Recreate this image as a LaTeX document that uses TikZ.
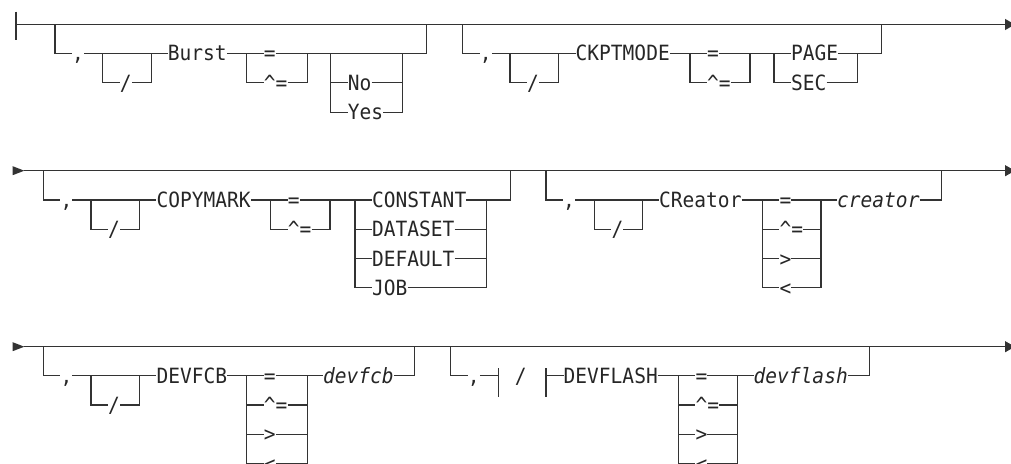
\documentclass[tikz,border=0pt]{standalone}
\usepackage{fontspec}
\usepackage{tikz}
\usetikzlibrary{arrows.meta,positioning}
\newfontfamily\sdfont[FakeStretch=0.93]{DejaVu Sans Mono}

\begin{document}
\begin{tikzpicture}[
    x=1pt, y=-1pt,
    rail/.style={draw=black!80, line width=1.1pt},
    arr/.style={rail, -{Triangle[length=10pt, width=11pt]}},
    kw/.style={font=\sdfont\fontsize{21}{24}\selectfont, text=black!85,
               inner sep=0pt, text height=15.3pt, text depth=0pt, anchor=west},
    var/.style={kw, font=\sdfont\itshape\fontsize{21}{24}\selectfont},
    node distance=17pt
  ]
  \useasboundingbox (0,0) rectangle (1011,463);
  \clip (0,0) rectangle (1011,463);

  % first line
  \coordinate (r1s) at (16,24.5);
  \coordinate (r1e) at (1015,24.5);
  \draw[rail] (16,11.7) -- (16,40);
  \draw[arr] (r1s) -- (r1e);

  \coordinate (bu0) at (55,24.5);
  \coordinate (bu1) at (55,53.3);
  \node[kw, right=of bu1] (bucom) {,};
  \coordinate (busl0) at (102.7,53.3);
  \coordinate (busl1) at (151.7,53.3);
  \node[kw] (busl) at (119.7,82.7) {/};
  \node[kw] (burst) at (167.7,53.3) {Burst};
  \coordinate (bueq0) at (246.7,53.3);
  \coordinate (bueq1) at (307.3,53.3);
  \node[kw] (bueq) at (263.7,53.3) {=};
  \node[kw] (bune) at (263.7,82.7) {\textasciicircum=};
  \coordinate (buyn0) at (330.7,53.3);
  \coordinate (buyn1) at (402.7,53.3);
  \node[kw] (buno) at (347.7,82.7) {No};
  \node[kw] (buyes) at (347.7,112.3) {Yes};
  \coordinate (buend) at (426.7,53.3);
  \draw[rail] (bu0) -- (bu1) -- (bucom.west);
  \draw[rail] (bucom.east) -- (burst.west);
  \draw[rail] (busl0) |- (busl.west);
  \draw[rail] (busl.east) -| (busl1);
  \draw[rail] (burst.east) -- (bueq.west);
  \draw[rail] (bueq.east) -- (buend) -- (buend |- bu0);
  \draw[rail] (bueq0) |- (bune.west);
  \draw[rail] (bune.east) -| (bueq1);
  \draw[rail] (buyn0) |- (buyes.west);
  \draw[rail] (buyn0 |- buno) -- (buno.west);
  \draw[rail] (buno.east) -- (buno.east -| buyn1);
  \draw[rail] (buyes.east) -| (buyn1);

  \coordinate (ck0) at (462.7,24.5);
  \coordinate (ck1) at (462.7,53.3);
  \node[kw, right=of ck1] (ckcom) {,};
  \coordinate (cksl0) at (510,53.3);
  \coordinate (cksl1) at (558.3,53.3);
  \node[kw] (cksl) at (527,82.7) {/};
  \node[kw] (ckpt) at (575.5,53.3) {CKPTMODE};
  \coordinate (ckeq0) at (690,53.3);
  \coordinate (ckeq1) at (750,53.3);
  \node[kw] (ckeq) at (707,53.3) {=};
  \node[kw] (ckne) at (707,82.7) {\textasciicircum=};
  \coordinate (ckps0) at (774,53.3);
  \coordinate (ckps1) at (857.7,53.3);
  \node[kw] (ckpage) at (791,53.3) {PAGE};
  \node[kw] (cksec) at (791,82.7) {SEC};
  \coordinate (ckend) at (881.7,53.3);
  \draw[rail] (ck0) -- (ck1) -- (ckcom.west);
  \draw[rail] (ckcom.east) -- (ckpt.west);
  \draw[rail] (cksl0) |- (cksl.west);
  \draw[rail] (cksl.east) -| (cksl1);
  \draw[rail] (ckpt.east) -- (ckeq.west);
  \draw[rail] (ckeq.east) -- (ckpage.west);
  \draw[rail] (ckeq0) |- (ckne.west);
  \draw[rail] (ckne.east) -| (ckeq1);
  \draw[rail] (ckps0) |- (cksec.west);
  \draw[rail] (cksec.east) -| (ckps1);
  \draw[rail] (ckpage.east) -- (ckend) -- (ckend |- ck0);

  % second line
  \coordinate (r2s) at (24.3,170.7);
  \coordinate (r2e) at (1015,170.7);
  \fill[black!80] (12.7,166.2) -- (r2s) -- (12.7,175.2) -- cycle;
  \draw[arr] (r2s) -- (r2e);

  \coordinate (cm0) at (43.3,170.7);
  \coordinate (cm1) at (43.3,200);
  \node[kw, right=of cm1] (cmcom) {,};
  \coordinate (cmsl0) at (91,200);
  \coordinate (cmsl1) at (139.3,200);
  \node[kw] (cmsl) at (108,229.3) {/};
  \node[kw] (copy) at (156.3,200) {COPYMARK};
  \coordinate (cmeq0) at (270.7,200);
  \coordinate (cmeq1) at (330,200);
  \node[kw] (cmeq) at (287.7,200) {=};
  \node[kw] (cmne) at (287.7,229.3) {\textasciicircum=};
  \coordinate (cmv0) at (355,200);
  \coordinate (cmv1) at (486.7,200);
  \coordinate (cmend) at (510.7,200);
  \draw[rail] (cm0) -- (cm1) -- (cmcom.west);
  \draw[rail] (cmcom.east) -- (copy.west);
  \draw[rail] (cmsl0) |- (cmsl.west);
  \draw[rail] (cmsl.east) -| (cmsl1);
  \draw[rail] (copy.east) -- (cmeq.west);
  \draw[rail] (cmeq0) |- (cmne.west);
  \draw[rail] (cmne.east) -| (cmeq1);
  \foreach \val [count=\i] in {CONSTANT, DATASET, DEFAULT, JOB} {
    \node[kw] (cmk\i) at (372, 200+29.3*\i-29.3) {\val};
    \draw[rail] (cmv0 |- cmk\i) -- (cmk\i.west);
    \draw[rail] (cmk\i.east) -- (cmv1 |- cmk\i);
  }
  \draw[rail] (cmeq.east) -- (cmk1.west);
  \draw[rail] (cmv0) -- (cmv0 |- cmk4);
  \draw[rail] (cmv1) -- (cmv1 |- cmk4);
  \draw[rail] (cmv1) -- (cmend) -- (cmend |- cm0);

  \coordinate (cr0) at (546,170.7);
  \coordinate (cr1) at (546,200);
  \node[kw, right=of cr1] (crcom) {,};
  \coordinate (crsl0) at (594.3,200);
  \coordinate (crsl1) at (642.7,200);
  \node[kw] (crsl) at (611.3,229.3) {/};
  \node[kw] (creat) at (659,200) {CReator};
  \coordinate (crop0) at (762.3,200);
  \coordinate (crop1) at (821,200);
  \node[var] (crval) at (837,200) {creator};
  \coordinate (crend) at (941.7,200);
  \draw[rail] (cr0) -- (cr1) -- (crcom.west);
  \draw[rail] (crcom.east) -- (creat.west);
  \draw[rail] (crsl0) |- (crsl.west);
  \draw[rail] (crsl.east) -| (crsl1);
  \foreach \op [count=\i] in {=, \textasciicircum=, >, <} {
    \node[kw] (cro\i) at (779.3, 200+29.3*\i-29.3) {\op};
    \draw[rail] (crop0 |- cro\i) -- (cro\i.west);
    \draw[rail] (cro\i.east) -- (crop1 |- cro\i);
  }
  \draw[rail] (creat.east) -- (cro1.west);
  \draw[rail] (crop0) -- (crop0 |- cro4);
  \draw[rail] (crop1) -- (crop1 |- cro4);
  \draw[rail] (crop1) -- (crval.west);
  \draw[rail] (crval.east) -- (crend) -- (crend |- cr0);

  % third line
  \coordinate (r3s) at (24.3,346.7);
  \coordinate (r3e) at (1015,346.7);
  \fill[black!80] (12.7,342.2) -- (r3s) -- (12.7,351.2) -- cycle;
  \draw[arr] (r3s) -- (r3e);

  \coordinate (fc0) at (43.3,346.7);
  \coordinate (fc1) at (43.3,375.7);
  \node[kw, right=of fc1] (fccom) {,};
  \coordinate (fcsl0) at (91,375.7);
  \coordinate (fcsl1) at (139.3,375.7);
  \node[kw] (fcsl) at (108,405) {/};
  \node[kw] (fcb) at (156.3,375.7) {DEVFCB};
  \coordinate (fcop0) at (246.7,375.7);
  \coordinate (fcop1) at (307.3,375.7);
  \node[var] (fcval) at (323,375.7) {devfcb};
  \coordinate (fcend) at (414.3,375.7);
  \draw[rail] (fc0) -- (fc1) -- (fccom.west);
  \draw[rail] (fccom.east) -- (fcb.west);
  \draw[rail] (fcsl0) |- (fcsl.west);
  \draw[rail] (fcsl.east) -| (fcsl1);
  \foreach \op [count=\i] in {=, \textasciicircum=, >, <} {
    \node[kw] (fco\i) at (263.7, 375.7+29.3*\i-29.3) {\op};
    \draw[rail] (fcop0 |- fco\i) -- (fco\i.west);
    \draw[rail] (fco\i.east) -- (fcop1 |- fco\i);
  }
  \draw[rail] (fcb.east) -- (fco1.west);
  \draw[rail] (fcop0) -- (fcop0 |- fco4);
  \draw[rail] (fcop1) -- (fcop1 |- fco4);
  \draw[rail] (fcop1) -- (fcval.west);
  \draw[rail] (fcval.east) -- (fcend) -- (fcend |- fc0);

  \coordinate (fl0) at (450.7,346.7);
  \coordinate (fl1) at (450.7,375.7);
  \node[kw, right=of fl1] (flcom) {,};
  \coordinate (flbar0) at (498.3,375.7);
  \node[kw, anchor=center] (flsl) at (520.7,375.7) {/};
  \coordinate (flbar1) at (546,375.7);
  \node[kw] (flash) at (563.5,375.7) {DEVFLASH};
  \coordinate (flop0) at (678.3,375.7);
  \coordinate (flop1) at (737.7,375.7);
  \node[var] (flval) at (753.5,375.7) {devflash};
  \coordinate (flend) at (869.3,375.7);
  \draw[rail] (fl0) -- (fl1) -- (flcom.west);
  \draw[rail] (flcom.east) -- (flbar0);
  \draw[rail] ([yshift=7.7pt]flbar0) -- ([yshift=-21pt]flbar0);
  \draw[rail] ([yshift=7.7pt]flbar1) -- ([yshift=-21pt]flbar1);
  \draw[rail] (flbar1) -- (flash.west);
  \foreach \op [count=\i] in {=, \textasciicircum=, >, <} {
    \node[kw] (flo\i) at (695.3, 375.7+29.3*\i-29.3) {\op};
    \draw[rail] (flop0 |- flo\i) -- (flo\i.west);
    \draw[rail] (flo\i.east) -- (flop1 |- flo\i);
  }
  \draw[rail] (flash.east) -- (flo1.west);
  \draw[rail] (flop0) -- (flop0 |- flo4);
  \draw[rail] (flop1) -- (flop1 |- flo4);
  \draw[rail] (flop1) -- (flval.west);
  \draw[rail] (flval.east) -- (flend) -- (flend |- fl0);
\end{tikzpicture}
\end{document}
